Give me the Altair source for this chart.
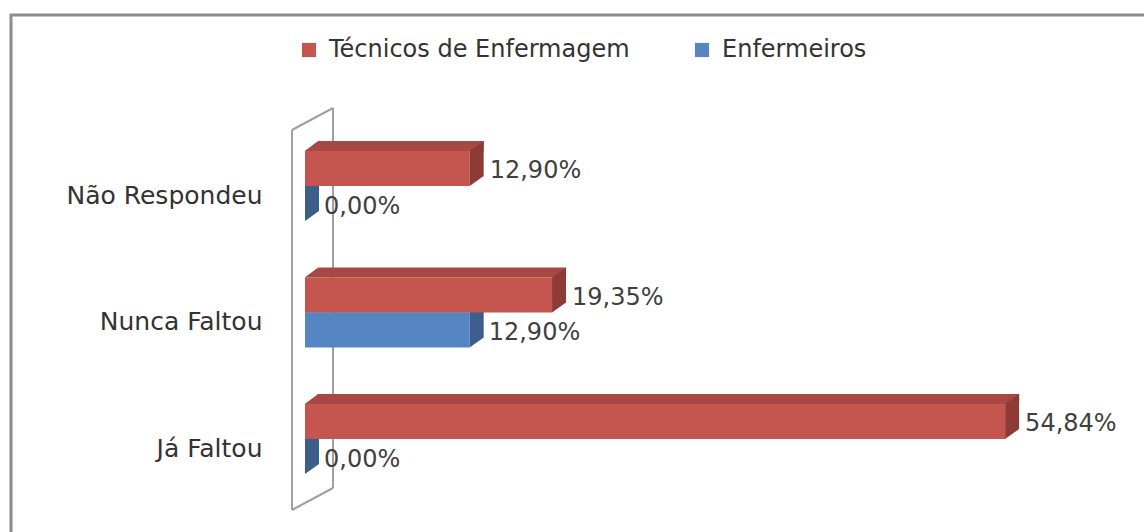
import altair as alt
import pandas as pd

categories = ["Não Respondeu", "Nunca Faltou", "Já Faltou"]
series_names = ["Técnicos de Enfermagem", "Enfermeiros"]
tecnicos = [12.90, 19.35, 54.84]
enfermeiros = [0.00, 12.90, 0.00]

front_colors = ["#C4554F", "#5585C2"]
top_colors = ["#A84844", "#45699A"]
side_colors = ["#8E3B38", "#3C5E8A"]

rows = []
for c, t, e in zip(categories, tecnicos, enfermeiros):
    rows.append({"categoria": c, "serie": series_names[0], "valor": t})
    rows.append({"categoria": c, "serie": series_names[1], "valor": e})
df = pd.DataFrame(rows)

FONT = "DejaVu Sans"
TXT = "#404040"

xscale = alt.Scale(domain=[0, 60], range=[305, 1071], nice=False, zero=True)
yscale = alt.Scale(domain=categories, range=[122.75, 502.25], paddingInner=0.5, paddingOuter=0.25)

X = alt.X("valor:Q", scale=xscale, axis=None)
X0 = alt.X("zero:Q", scale=xscale, axis=None)
Y = alt.Y(
    "categoria:N", scale=yscale, sort=categories,
    axis=alt.Axis(title=None, domain=False, ticks=False, tickSize=0, labelPadding=4,
                  offset=-266, labelFontSize=25, labelFont=FONT, labelColor="#333333",
                  labelOffset=9.5, grid=False, labelLimit=0),
)

base = alt.Chart(df).transform_calculate(
    rotulo="replace(format(datum.valor, '.2f'), '.', ',') + '%'",
    zero="0",
)
red = base.transform_filter(alt.datum.serie == series_names[0])
blue = base.transform_filter(alt.datum.serie == series_names[1])

one = pd.DataFrame({"k": [0]})

frame = alt.Chart(one).mark_rect(fillOpacity=0, stroke="#8c8c8c", strokeWidth=3).encode(
    x=alt.value(11), x2=alt.value(1220), y=alt.value(15), y2=alt.value(620)
)

wall_style = dict(color="#a0a0a0", strokeWidth=2)
wall = [
    alt.Chart(one).mark_rule(**wall_style).encode(x=alt.value(292), y=alt.value(130), x2=alt.value(292), y2=alt.value(510)),
    alt.Chart(one).mark_rule(**wall_style).encode(x=alt.value(333), y=alt.value(108), x2=alt.value(333), y2=alt.value(488)),
    alt.Chart(one).mark_rule(**wall_style).encode(x=alt.value(292), y=alt.value(130), x2=alt.value(333), y2=alt.value(108)),
    alt.Chart(one).mark_rule(**wall_style).encode(x=alt.value(292), y=alt.value(510), x2=alt.value(333), y2=alt.value(488)),
]

color = alt.Color(
    "serie:N",
    scale=alt.Scale(domain=series_names, range=front_colors),
    legend=alt.Legend(title=None, orient="none", legendX=297, legendY=38, direction="horizontal",
                      symbolType="square", symbolSize=200, symbolStrokeWidth=0, symbolOpacity=1,
                      labelFontSize=24, labelFont=FONT, labelColor="#333333", labelOffset=8,
                      labelLimit=0, columnPadding=60),
)

def top_face(src, col, yoff):
    return src.mark_bar(height=10, yOffset=yoff, x2Offset=14, color=col).encode(
        x=X0, x2="valor:Q", y=Y
    )

blue_top = top_face(blue, top_colors[1], -5)
blue_front = blue.mark_bar(height=35, yOffset=17.5).encode(x=X0, x2="valor:Q", y=Y, color=color)
blue_side = blue.mark_point(shape="M0,0 L14,-10 L14,25 L0,35 Z", size=4, filled=True,
                            opacity=1, strokeWidth=0, color=side_colors[1]).encode(x=X, y=Y)

red_top = top_face(red, top_colors[0], -40)
red_front = red.mark_bar(height=35, yOffset=-17.5).encode(x=X0, x2="valor:Q", y=Y, color=color)
red_side = red.mark_point(shape="M0,-35 L14,-45 L14,-10 L0,0 Z", size=4, filled=True,
                          opacity=1, strokeWidth=0, color=side_colors[0]).encode(x=X, y=Y)
red_notch = red.mark_point(shape="M-1,-46 L14.5,-46 L-1,-34.5 Z", size=4, filled=True,
                           opacity=1, strokeWidth=0, color="white").encode(x=X0, y=Y)

red_text = red.mark_text(align="left", baseline="middle", dx=20, dy=-15, fontSize=24,
                         font=FONT, color=TXT).encode(x=X, y=Y, text="rotulo:N")
blue_text = blue.mark_text(align="left", baseline="middle", dx=19, dy=20.5, fontSize=24,
                           font=FONT, color=TXT).encode(x=X, y=Y, text="rotulo:N")

chart = alt.layer(
    frame, *wall,
    blue_top, blue_front, blue_side,
    red_top, red_front, red_side, red_notch,
    red_text, blue_text,
).properties(
    width=1144, height=532,
    autosize=alt.AutoSizeParams(type="none"),
    padding=0,
    background="white",
).configure_view(stroke=None)

chart.save("out.html", embed_options={"renderer": "svg", "actions": False})
